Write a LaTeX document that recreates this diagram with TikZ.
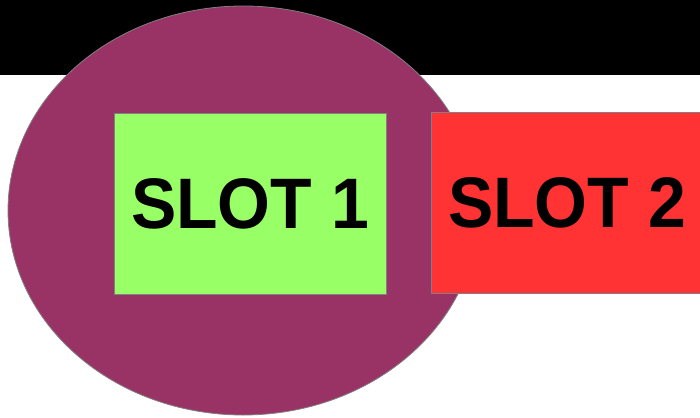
\documentclass[tikz,border=0pt]{standalone}
\usepackage{fontspec}
\setmainfont{Liberation Sans}
\newfontfamily\slotfont{Liberation Sans}[FakeStretch=0.95]
\usetikzlibrary{shapes.geometric}
\definecolor{plum}{HTML}{993366}
\definecolor{slotgreen}{HTML}{99FF66}
\definecolor{slotred}{HTML}{FF3333}
\definecolor{edgegray}{HTML}{808080}
\tikzset{
  slotbox/.style={draw=edgegray, line width=0.8pt, minimum width=272pt, minimum height=181pt, inner sep=0pt, font=\slotfont\fontsize{71.5}{71.5}\selectfont\bfseries, text=black},
}
\begin{document}
\begin{tikzpicture}[x=1pt, y=-1pt]
\useasboundingbox (0,0) rectangle (700,417);
\fill[black] (0,0) rectangle (700,75.5) coordinate (bandend);
\node[ellipse, draw=edgegray, line width=0.8pt, fill=plum, minimum width=470.4pt, minimum height=409pt, inner sep=0pt] (disc) at (243.2,210.5) {};
\node[slotbox, fill=slotgreen] (slot1) at (250,203.5) {SLOT 1};
\node[slotbox, fill=slotred] (slot2) at (567,203) {SLOT 2};
\end{tikzpicture}
\end{document}
